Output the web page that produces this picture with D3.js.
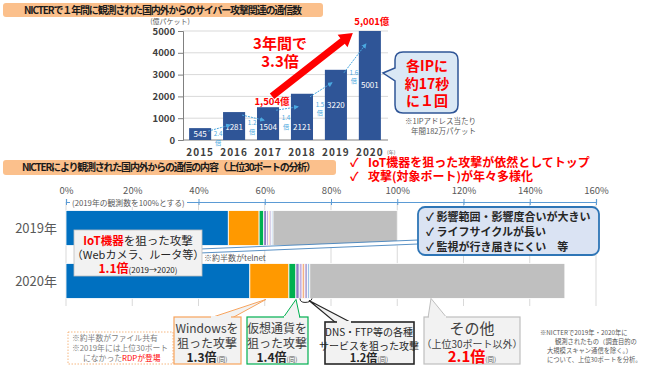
<!DOCTYPE html>
<html><head><meta charset="utf-8">
<script src="https://cdn.jsdelivr.net/npm/d3@7"></script>
<style>body{margin:0;background:#fff}svg{display:block}text{font-family:"Noto Sans CJK JP","Noto Sans",sans-serif}</style>
</head><body><svg id="c" width="650" height="368"></svg>
<script>
// ---- data ----
const years = ["2015","2016","2017","2018","2019","2020"];
const packets = [545,1281,1504,2121,3220,5001];
const growth = ["2.4","1.2","1.4","1.5","1.6"];
const yTicks = [0,1000,2000,3000,4000,5000];
const pctTicks = [0,20,40,60,80,100,120,140,160];
const portYears = ["2019年","2020年"];
const portCats = ["IoT","Windows","Crypto","S1","S2","S3","S4","S5","Other"];
const port2019 = [49.0,9.3,1.4,0.8,0.6,0.5,0.5,0.4,37.5];
const port2020 = [55.5,11.8,2.1,1.0,0.9,0.8,0.8,0.7,77.0];

const svg = d3.select("#c");
const JP = '"Noto Sans CJK JP",sans-serif';

// ---- top banner ----
svg.append("rect").attr("x",3).attr("y",3).attr("width",320).attr("height",14).attr("rx",3).attr("fill","#fbc08c");
svg.append("text").attr("x",163).attr("y",13.5).attr("text-anchor","middle").attr("font-size",10).attr("font-weight","bold")
  .attr("fill","#1a1a1a").attr("textLength",278).text("NICTERで１年間に観測された国内外からのサイバー攻撃関連の通信数");

// ---- top chart ----
const x = d3.scaleBand(years,[183,387]).paddingInner(0.35).paddingOuter(0.18);
const y = d3.scaleLinear([0,5000],[140,31]);
const gTop = svg.append("g");
gTop.selectAll("line.grid").data(yTicks).join("line").attr("x1",183).attr("x2",388)
  .attr("y1",d=>y(d)).attr("y2",d=>y(d)).attr("stroke",d=>d===0?"#808080":"#d9d9d9").attr("stroke-width",1);
const yAxis = d3.axisLeft(y).tickValues(yTicks).tickFormat(d3.format("d")).tickSize(5).tickPadding(3);
const ya = gTop.append("g").attr("transform","translate(183,0)").call(yAxis);
ya.select(".domain").attr("stroke","#808080");
ya.selectAll(".tick line").attr("stroke","#808080");
ya.selectAll(".tick text").attr("font-size",9.5).attr("font-weight","bold").attr("fill","#404040").attr("font-family",JP);
gTop.append("text").attr("x",170).attr("y",24).attr("text-anchor","middle").attr("font-size",7).attr("fill","#595959").text("(億パケット)");

const xAxis = d3.axisBottom(x).tickSize(0).tickPadding(9);
const xa = gTop.append("g").attr("transform","translate(0,140)").call(xAxis);
xa.select(".domain").remove();
xa.selectAll(".tick text").attr("font-size",10).attr("font-weight","bold").attr("fill","#404040").attr("letter-spacing",1).attr("font-family",JP);
gTop.append("text").attr("x",387).attr("y",154).attr("font-size",5).attr("fill","#595959").text("(年)");

gTop.selectAll("rect.bar").data(packets).join("rect").attr("x",(d,i)=>x(years[i])).attr("width",x.bandwidth())
  .attr("y",d=>y(d)).attr("height",d=>y(0)-y(d)).attr("fill","#2f5597");
gTop.selectAll("text.val").data(packets).join("text").attr("x",(d,i)=>x(years[i])+x.bandwidth()/2)
  .attr("y",d=>{const m=(y(d)+y(0))/2; return (d<2500?Math.max(m,127):m)+3;})
  .attr("text-anchor","middle").attr("font-size",8).attr("fill","#fff").text(d=>d);

// growth arrows
const defs = svg.append("defs");
defs.append("marker").attr("id","ah").attr("viewBox","0 0 10 10").attr("refX",8).attr("refY",5)
  .attr("markerWidth",5).attr("markerHeight",5).attr("orient","auto")
  .append("path").attr("d","M0,0L10,5L0,10z").attr("fill","#4aa8e0");
growth.forEach((g,i)=>{
  const x0 = x(years[i])+x.bandwidth()-3, y0 = y(packets[i])+3;
  const x1 = x(years[i+1])+7, y1 = y(packets[i+1])+13;
  gTop.append("line").attr("x1",x0).attr("y1",y0).attr("x2",x1).attr("y2",y1)
    .attr("stroke","#4aa8e0").attr("stroke-width",1).attr("stroke-dasharray","2,1").attr("marker-end","url(#ah)");
  const cx = x(years[i])+x.bandwidth()+x.step()*0.35/2+1;
  const ty = y(packets[i])+(i===4?5:(i===0?8:13));
  const gt = gTop.append("text").attr("text-anchor","middle").attr("font-size",6.2).attr("fill","#4aa8e0");
  gt.append("tspan").attr("x",cx).attr("y",ty).text(g);
  gt.append("tspan").attr("x",cx).attr("y",ty+8.5).text("倍");
});

// labels 1,504 and 5,001
gTop.append("text").attr("x",x("2017")+x.bandwidth()/2+4).attr("y",y(1504)-2).attr("text-anchor","middle")
  .attr("font-size",9.5).attr("font-weight","bold").attr("fill","#ff0000").text("1,504億");
gTop.append("text").attr("x",x("2020")+x.bandwidth()/2+2).attr("y",y(5001)-6).attr("text-anchor","middle")
  .attr("font-size",9.5).attr("font-weight","bold").attr("fill","#ff0000").text("5,001億");

// big red arrow
(function(){
  const sx = x("2017")+x.bandwidth()/2+4, sy = y(1504)-11;
  const ex = x("2020")-6, ey = y(5001)+2;
  const ang = Math.atan2(ey-sy, ex-sx);
  const hl = 13, hw = 8, w = 3.6;
  const bx = ex - hl*Math.cos(ang), by = ey - hl*Math.sin(ang);
  const nx = -Math.sin(ang), ny = Math.cos(ang);
  const pts = [[sx+nx*w,sy+ny*w],[bx+nx*w,by+ny*w],[bx+nx*hw,by+ny*hw],[ex,ey],[bx-nx*hw,by-ny*hw],[bx-nx*w,by-ny*w],[sx-nx*w,sy-ny*w]];
  gTop.append("polygon").attr("points",pts.map(p=>p.join(",")).join(" ")).attr("fill","#ff0000");
})();
const big = gTop.append("text").attr("text-anchor","middle").attr("font-size",15).attr("font-weight","bold").attr("fill","#ff0000");
big.append("tspan").attr("x",280).attr("y",49).text("3年間で");
big.append("tspan").attr("x",280).attr("y",67).text("3.3倍");

// speech bubble
gTop.append("path").attr("d","M403,52 H450 Q458,52 458,60 V105 Q458,113 450,113 H403 Q395,113 395,105 V81 L383,73 L395,68 V60 Q395,52 403,52 Z")
  .attr("fill","#dae8f5").attr("stroke","#2f5597").attr("stroke-width",1.5);
const bt = gTop.append("text").attr("text-anchor","middle").attr("font-size",14).attr("font-weight","bold").attr("fill","#ff0000");
[["各IPに",71],["約17秒",89],["に１回",106]].forEach(([t,yy])=>bt.append("tspan").attr("x",427).attr("y",yy).text(t));
const nt = gTop.append("text").attr("font-size",7.5).attr("fill","#595959");
nt.append("tspan").attr("x",405).attr("y",124).text("※1IPアドレス当たり");
nt.append("tspan").attr("x",411).attr("y",134).text("年間182万パケット");

// ---- bottom banner ----
svg.append("rect").attr("x",3).attr("y",160).attr("width",333).attr("height",15).attr("rx",3).attr("fill","#fbc08c");
svg.append("text").attr("x",169).attr("y",171).attr("text-anchor","middle").attr("font-size",10).attr("font-weight","bold")
  .attr("fill","#1a1a1a").attr("textLength",294).text("NICTERにより観測された国内外からの通信の内容（上位30ポートの分析）");
const ck = svg.append("text").attr("font-size",12).attr("font-weight","bold").attr("fill","#ff0000");
[["IoT機器を狙った攻撃が依然としてトップ",167],["攻撃(対象ポート)が年々多様化",180.5]].forEach(([t,yy])=>{
  ck.append("tspan").attr("x",350).attr("y",yy).text("✓");
  ck.append("tspan").attr("x",368).attr("y",yy).text(t);
});

// ---- bottom chart ----
const xp = d3.scaleLinear([0,160],[66,596]);
const yb = d3.scaleBand(portYears,[200,309]).paddingInner(0.34).paddingOuter(0.2);
const color = d3.scaleOrdinal(portCats,["#0070c0","#ff9900","#00b050","#8e7cc3","#c5b0e0","#f4b183","#b4a7d6","#9dc3e6","#bfbfbf"]);
const gB = svg.append("g");
gB.selectAll("line.vg").data(pctTicks).join("line").attr("x1",d=>xp(d)).attr("x2",d=>xp(d)).attr("y1",202).attr("y2",306)
  .attr("stroke","#d9d9d9").attr("stroke-width",1);
const pa = gB.append("g").attr("transform","translate(0,202)").call(d3.axisTop(xp).tickValues(pctTicks).tickFormat(d=>d+"%").tickSize(3).tickPadding(5));
pa.select(".domain").attr("stroke","#5b9bd5").attr("stroke-width",1.2);
pa.selectAll(".tick line").attr("stroke","#5b9bd5").attr("y2",-3).attr("y1",3);
pa.selectAll(".tick text").attr("font-size",9.5).attr("fill","#595959").attr("font-family",JP);
gB.append("rect").attr("x",70).attr("y",198).attr("width",117).attr("height",9).attr("fill","#fff");
gB.append("text").attr("x",72).attr("y",205.5).attr("font-size",7.8).attr("fill","#595959").text("(2019年の観測数を100%とする)");

const rows = [port2019,port2020].map(arr=>{const o={}; portCats.forEach((k,i)=>o[k]=arr[i]); return o;});
const stack = d3.stack().keys(portCats)(rows);
gB.selectAll("g.s").data(stack).join("g").attr("fill",d=>color(d.key))
  .selectAll("rect").data(d=>d).join("rect")
  .attr("x",d=>xp(d[0])).attr("width",d=>xp(d[1])-xp(d[0]))
  .attr("y",(d,i)=>yb(portYears[i])).attr("height",yb.bandwidth())
  .attr("stroke","#fff").attr("stroke-width",0.8);
gB.selectAll("text.yl").data(portYears).join("text").attr("x",57).attr("y",d=>yb(d)+yb.bandwidth()/2+5)
  .attr("text-anchor","end").attr("font-size",13).attr("fill","#595959").text(d=>d);

// telnet connector and blue box
gB.append("polygon").attr("points","200,249 418,240 418,244 200,253").attr("fill","#fff").attr("stroke","#2e75b6").attr("stroke-width",0.8);
gB.append("text").attr("x",204).attr("y",261).attr("font-size",8).attr("fill","#595959").text("※約半数がtelnet");
gB.append("rect").attr("x",418).attr("y",207).attr("width",181).attr("height",48).attr("rx",7).attr("fill","#dae3f3").attr("stroke","#2e75b6").attr("stroke-width",1.8);
const bl = gB.append("text").attr("font-size",11).attr("font-weight","bold").attr("fill","#262626");
[["影響範囲・影響度合いが大きい",221],["ライフサイクルが長い",236],["監視が行き届きにくい　等",251]].forEach(([t,yy])=>{
  bl.append("tspan").attr("x",426).attr("y",yy).text("✓ "+t);
});

// IoT box
gB.append("rect").attr("x",74).attr("y",230).attr("width",128).attr("height",46).attr("fill","#f2f2f2").attr("stroke","#bfbfbf").attr("stroke-width",0.8);
const it = gB.append("text").attr("text-anchor","middle");
it.append("tspan").attr("x",138).attr("y",245).attr("font-size",11.5).attr("fill","#ff0000").attr("font-weight","bold").text("IoT機器");
it.append("tspan").attr("font-size",11.5).attr("fill","#262626").text("を狙った攻撃");
it.append("tspan").attr("x",138).attr("y",259).attr("font-size",11).attr("fill","#262626").text("（Webカメラ、ルータ等）");
it.append("tspan").attr("x",138).attr("y",273).attr("font-size",12).attr("fill","#ff0000").attr("font-weight","bold").text("1.1倍");
it.append("tspan").attr("font-size",8).attr("fill","#262626").text("(2019→2020)");

// bottom callouts
const by = yb("2020年")+yb.bandwidth();
function box(x0,y0,w,h,stroke,sw,dash){
  const r = gB.append("rect").attr("x",x0).attr("y",y0).attr("width",w).attr("height",h).attr("fill",dash?"#fff":"#f2f2f2").attr("stroke",stroke).attr("stroke-width",sw);
  if(dash) r.attr("stroke-dasharray",dash);
}
function tail(pts,stroke,sw){
  gB.append("polygon").attr("points",pts.map(p=>p.join(",")).join(" ")).attr("fill","#f2f2f2").attr("stroke",stroke).attr("stroke-width",sw);
}
function lines(cx,arr){
  const t = gB.append("text").attr("text-anchor","middle");
  arr.forEach(([parts,yy])=>{
    parts.forEach(([s,fs,fill,fw],j)=>{
      const ts = t.append("tspan").attr("font-size",fs).attr("fill",fill).attr("font-weight",fw||"normal").text(s);
      if(j===0) ts.attr("x",cx).attr("y",yy);
    });
  });
}
// RDP note
box(68,332,105,32,"#f4a460",0.8,"1.5,1.5");
const rn = gB.append("text").attr("font-size",7.8).attr("fill","#7f7f7f");
rn.append("tspan").attr("x",72).attr("y",341).text("※約半数がファイル共有");
rn.append("tspan").attr("x",72).attr("y",351).text("※2019年には上位30ポート");
rn.append("tspan").attr("x",83).attr("y",361).text("になかった");
rn.append("tspan").attr("fill","#ff0000").text("RDPが登場");

// Windows
tail([[210,318],[232,318],[266,by+1]],"#f7a35c",1);
box(174,317,67,47,"#f7a35c",1.2);
gB.append("line").attr("x1",211).attr("x2",231).attr("y1",317).attr("y2",317).attr("stroke","#f2f2f2").attr("stroke-width",2);
lines(207,[[[["Windowsを",12,"#404040"]],333],[[["狙った攻撃",12,"#404040"]],348],[[["1.3倍",12,"#262626","bold"],["(同)",6.5,"#595959"]],362]]);

// Crypto
tail([[283,318],[300,318],[296,by+1]],"#00b050",1);
box(247,317,61,47,"#00b050",1.2);
gB.append("line").attr("x1",284).attr("x2",299).attr("y1",317).attr("y2",317).attr("stroke","#f2f2f2").attr("stroke-width",2);
lines(277,[[[["仮想通貨を",12,"#404040"]],333],[[["狙った攻撃",12,"#404040"]],348],[[["1.4倍",12,"#262626","bold"],["(同)",6.5,"#595959"]],362]]);

// DNS
tail([[336,323],[352,323],[309,by+2]],"#262626",1.2);
gB.append("path").attr("d",`M300,${by} q0,4 5,4 q6,0 7,-4`).attr("fill","none").attr("stroke","#262626").attr("stroke-width",1);
box(325,322,89,42,"#262626",1.6);
gB.append("line").attr("x1",337).attr("x2",351).attr("y1",322).attr("y2",322).attr("stroke","#f2f2f2").attr("stroke-width",2);
lines(369,[[[["DNS・FTP等の各種",10,"#262626"]],336],[[["サービスを狙った攻撃",10,"#262626"]],350],[[["1.2倍",11,"#262626","bold"],["(同)",6.5,"#595959"]],362]]);

// Other
tail([[428,318],[447,318],[431,by]],"#bfbfbf",1);
box(424,317,96,47,"#bfbfbf",1.2);
gB.append("line").attr("x1",429).attr("x2",446).attr("y1",317).attr("y2",317).attr("stroke","#f2f2f2").attr("stroke-width",2);
lines(472,[[[["その他",15,"#404040"]],334],[[["（上位30ポート以外）",10,"#404040"]],348],[[["2.1倍",15,"#ff0000","bold"],["(同)",6.5,"#595959"]],362]]);

// note
const fn = gB.append("text").attr("font-size",6.3).attr("fill","#595959");
[["※NICTERで2019年・2020年に",540,335],["観測されたもの（調査目的の",555,344],["大規模スキャン通信を除く。）",547,353],["について、上位30ポートを分析。",547,362]].forEach(([t,xx,yy])=>{
  fn.append("tspan").attr("x",xx).attr("y",yy).text(t);
});
</script></body></html>
